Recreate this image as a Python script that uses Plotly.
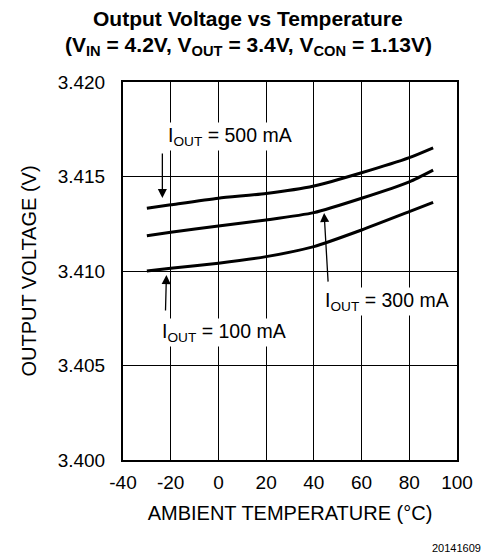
import plotly.graph_objects as go

# Ambient temperature (°C) and output voltage (V) per load current
temperature = [-30, -20, 0, 20, 40, 60, 80, 90]
vout_500ma = [3.41332, 3.41350, 3.41385, 3.41410, 3.41450, 3.41520, 3.41600, 3.41652]
vout_300ma = [3.41187, 3.41205, 3.41238, 3.41270, 3.41309, 3.41385, 3.41472, 3.41534]
vout_100ma = [3.41000, 3.41014, 3.41041, 3.41076, 3.41129, 3.41217, 3.41314, 3.41363]

x_ticks = [-40, -20, 0, 20, 40, 60, 80, 100]
y_ticks = [3.400, 3.405, 3.410, 3.415, 3.420]

FONT = "Liberation Sans, Arial, sans-serif"

fig = go.Figure()
for series in (vout_500ma, vout_300ma, vout_100ma):
    fig.add_trace(go.Scatter(
        x=temperature, y=series, mode="lines",
        line=dict(color="black", width=3, shape="spline", smoothing=0.6),
        showlegend=False, hoverinfo="skip",
    ))

# Curve labels with pointer arrows
labels = [
    ("I<sub>OUT</sub> = 500 mA", 5.0, 3.41714, (-23.5, 3.41386), (-23.5, 3.41630)),
    ("I<sub>OUT</sub> = 300 mA", 70.5, 3.40841, (44.3, 3.41307), (46.0, 3.40936)),
    ("I<sub>OUT</sub> = 100 mA", 2.5, 3.40677, (-21.8, 3.40979), (-22.2, 3.40783)),
]
for text, tx, ty, tip, tail in labels:
    fig.add_annotation(
        x=tip[0], y=tip[1], ax=tail[0], ay=tail[1],
        xref="x", yref="y", axref="x", ayref="y",
        text="", showarrow=True, arrowhead=2, arrowsize=1.4,
        arrowwidth=1.3, arrowcolor="black",
    )
    fig.add_annotation(
        x=tx, y=ty, xref="x", yref="y", text=text, showarrow=False,
        font=dict(family=FONT, size=19.5, color="black"),
        bgcolor="white", borderpad=1,
    )

# Two-line heading
fig.add_annotation(
    x=0.375, y=1.169, xref="paper", yref="paper", xanchor="center", yanchor="middle",
    text="<b>Output Voltage vs Temperature</b>", showarrow=False,
    font=dict(family=FONT, size=21, color="black"),
)
fig.add_annotation(
    x=0.375, y=1.094, xref="paper", yref="paper", xanchor="center", yanchor="middle",
    text="<b>(V<sub>IN</sub> = 4.2V, V<sub>OUT</sub> = 3.4V, "
         "V<sub>CON</sub> = 1.13V)</b>",
    showarrow=False,
    font=dict(family=FONT, size=21, color="black"),
)

fig.add_annotation(
    x=1.077, y=-0.232, xref="paper", yref="paper", xanchor="right", yanchor="middle",
    text="20141609", showarrow=False,
    font=dict(family=FONT, size=11, color="black"),
)

fig.update_layout(
    width=485, height=557,
    margin=dict(l=123, r=23, t=82, b=97),
    paper_bgcolor="white", plot_bgcolor="white",
    xaxis=dict(
        range=[-40, 100], tickvals=x_ticks, ticktext=[str(v) for v in x_ticks],
        showgrid=True, gridcolor="black", gridwidth=1,
        showline=True, linecolor="black", linewidth=2, mirror=True,
        ticks="", zeroline=False, ticklabelstandoff=4,
        tickfont=dict(family=FONT, size=19, color="black"),
        title=dict(text="AMBIENT TEMPERATURE (°C)", standoff=14,
                   font=dict(family=FONT, size=20, color="black")),
    ),
    yaxis=dict(
        range=[3.400, 3.420], tickvals=y_ticks,
        ticktext=[f"{v:.3f}" for v in y_ticks],
        showgrid=True, gridcolor="black", gridwidth=1,
        showline=True, linecolor="black", linewidth=2, mirror=True,
        ticks="", zeroline=False, ticklabelstandoff=12,
        tickfont=dict(family=FONT, size=19, color="black"),
        title=dict(text="OUTPUT VOLTAGE (V)", standoff=16,
                   font=dict(family=FONT, size=20, color="black")),
    ),
)

fig.write_html("out.html")
